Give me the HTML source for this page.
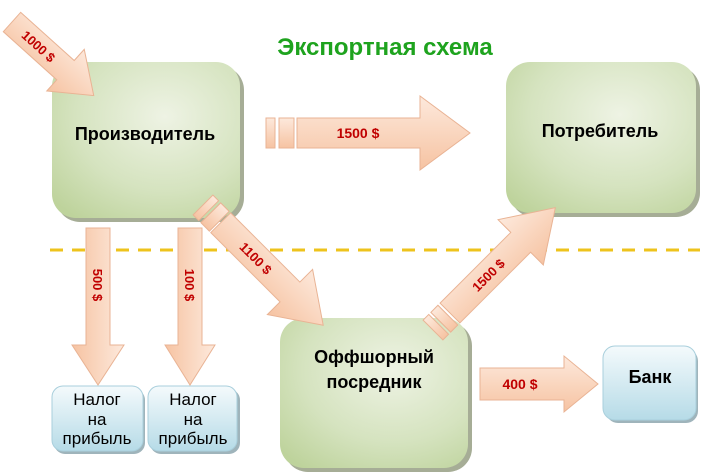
<!DOCTYPE html>
<html><head><meta charset="utf-8"><style>
body{margin:0;background:#fff}
svg{display:block}
text{font-family:"Liberation Sans",Arial,sans-serif;font-weight:bold}
</style></head><body>
<svg width="711" height="472" viewBox="0 0 711 472" xmlns="http://www.w3.org/2000/svg">
<defs>
<radialGradient id="g" cx="0.6" cy="0.35" r="0.8">
<stop offset="0" stop-color="#eef3e4"/><stop offset="0.6" stop-color="#d5e3bf"/><stop offset="1" stop-color="#bed39c"/>
</radialGradient>
<linearGradient id="b" x1="0" y1="0" x2="0" y2="1">
<stop offset="0" stop-color="#f4fafc"/><stop offset="1" stop-color="#b6dbe7"/>
</linearGradient>
<linearGradient id="a" x1="0" y1="0" x2="0" y2="1">
<stop offset="0" stop-color="#fde9dc"/><stop offset="1" stop-color="#f6c3a2"/>
</linearGradient>
</defs>
<line x1="50" y1="250" x2="700" y2="250" stroke="#eec31c" stroke-width="3" stroke-dasharray="13,9"/>
<text x="385" y="55" font-size="24" fill="#1ea31e" text-anchor="middle">Экспортная схема</text>

<rect x="56" y="66" width="188" height="156" rx="24" fill="#a6ad96"/>
<rect x="510" y="66" width="190" height="151" rx="24" fill="#a6ad96"/>
<rect x="284" y="322" width="188" height="150" rx="24" fill="#a6ad96"/>
<rect x="52" y="62" width="188" height="156" rx="24" fill="url(#g)"/>
<rect x="506" y="62" width="190" height="151" rx="24" fill="url(#g)"/>
<rect x="280" y="318" width="188" height="150" rx="24" fill="url(#g)"/>
<rect x="606" y="349" width="92" height="74" rx="12" fill="#9fb4bb"/>
<rect x="603" y="346" width="93" height="74" rx="12" fill="url(#b)" stroke="#a9cfdc"/>
<rect x="54" y="389" width="91" height="65" rx="11" fill="#9fb4bb"/>
<rect x="52" y="386" width="91" height="65" rx="11" fill="url(#b)" stroke="#a9cfdc"/>
<rect x="150" y="389" width="90" height="65" rx="11" fill="#9fb4bb"/>
<rect x="148" y="386" width="89" height="65" rx="11" fill="url(#b)" stroke="#a9cfdc"/>

<text x="145" y="140" font-size="18" text-anchor="middle">Производитель</text>
<text x="600" y="137" font-size="18" text-anchor="middle">Потребитель</text>
<text x="374" y="363" font-size="18" text-anchor="middle">Оффшорный</text>
<text x="374" y="388" font-size="18" text-anchor="middle">посредник</text>
<text x="650" y="383" font-size="18" text-anchor="middle">Банк</text>
<g font-size="17" text-anchor="middle">
<text x="97" y="405" style="font-weight:normal">Налог</text><text x="97" y="425" style="font-weight:normal">на</text><text x="97" y="444" style="font-weight:normal">прибыль</text>
<text x="193" y="405" style="font-weight:normal">Налог</text><text x="193" y="425" style="font-weight:normal">на</text><text x="193" y="444" style="font-weight:normal">прибыль</text>
</g>

<g fill="url(#a)" stroke="#e9b394" stroke-width="1">
<g transform="translate(12,22) rotate(42)">
<polygon points="0,-13 72,-13 72,-28 110,0 72,28 72,13 0,13"/>
<text x="36" y="5" font-size="13" fill="#c00000" stroke="none" text-anchor="middle">1000 $</text>
</g>
<g transform="translate(0,133)">
<rect x="266" y="-15" width="9" height="30"/>
<rect x="279" y="-15" width="15" height="30"/>
<polygon points="297,-15 420,-15 420,-37 470,0 420,37 420,15 297,15"/>
<text x="358" y="5" font-size="14" fill="#c00000" stroke="none" text-anchor="middle">1500 $</text>
</g>
<g transform="translate(98,228) rotate(90)">
<polygon points="0,-12 117,-12 117,-26 157,0 117,26 117,12 0,12"/>
<text x="57" y="5" font-size="13" fill="#c00000" stroke="none" text-anchor="middle">500 $</text>
</g>
<g transform="translate(190,228) rotate(90)">
<polygon points="0,-12 117,-12 117,-25 157,0 117,25 117,12 0,12"/>
<text x="57" y="5" font-size="13" fill="#c00000" stroke="none" text-anchor="middle">100 $</text>
</g>
<g transform="translate(203,205) rotate(45)">
<rect x="0" y="-14" width="8" height="28"/>
<rect x="11" y="-14" width="12" height="28"/>
<polygon points="25,-14 123,-14 123,-32 170,0 123,32 123,14 25,14"/>
<text x="75" y="5" font-size="13" fill="#c00000" stroke="none" text-anchor="middle">1100 $</text>
</g>
<g transform="translate(433,330) rotate(-45)">
<rect x="0" y="-14" width="8" height="28"/>
<rect x="11" y="-14" width="10" height="28"/>
<polygon points="24,-14 124,-14 124,-32 173,0 124,32 124,14 24,14"/>
<text x="78" y="5" font-size="13" fill="#c00000" stroke="none" text-anchor="middle">1500 $</text>
</g>
<g transform="translate(480,384)">
<polygon points="0,-16 84,-16 84,-28 118,0 84,28 84,16 0,16"/>
<text x="40" y="5" font-size="14" fill="#c00000" stroke="none" text-anchor="middle">400 $</text>
</g>
</g>
</svg>
</body></html>
